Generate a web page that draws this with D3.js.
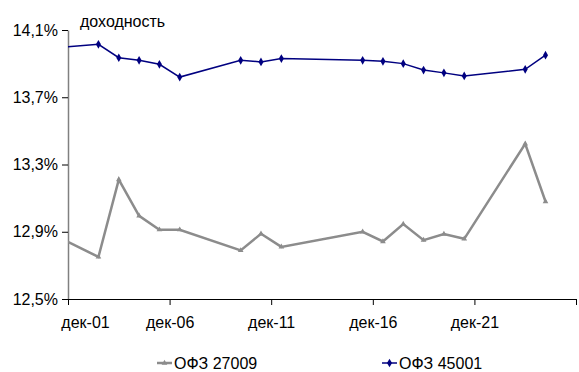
<!DOCTYPE html>
<html>
<head>
<meta charset="utf-8">
<script src="https://cdn.jsdelivr.net/npm/d3@7"></script>
<style>
  body { margin: 0; background: #fff; }
  text { font-family: "Liberation Sans", Arial, sans-serif; }
</style>
</head>
<body>
<svg id="chart"></svg>
<script>
// точки кривой: июнь каждого года
const dates = ['2001-06', '2003-06', '2004-06', '2005-06', '2006-06', '2007-06', '2010-06', '2011-06', '2012-06',
    '2016-06', '2017-06', '2018-06', '2019-06', '2020-06', '2021-06', '2024-06', '2025-06'];
const ofz27009 = [12.87, 12.75, 13.21, 12.995, 12.912, 12.912, 12.789, 12.888, 12.81,
    12.90, 12.842, 12.946, 12.85, 12.886, 12.858, 13.423, 13.08];
const ofz45001 = [13.995, 14.015, 13.935, 13.92, 13.896, 13.82, 13.92, 13.91, 13.93,
    13.92, 13.914, 13.90, 13.862, 13.845, 13.827, 13.866, 13.95];
const seriesNames = ['ОФЗ 27009', 'ОФЗ 45001'];
const yTicks = [12.5, 12.9, 13.3, 13.7, 14.1];
const xTickDates = ['2001-12', '2006-12', '2011-12', '2016-12', '2021-12', '2026-12'];
const xTickLabels = ['дек-01', 'дек-06', 'дек-11', 'дек-16', 'дек-21', ''];

const svgWidth = 579;
const svgHeight = 372;
const margin = { top: 30, right: 3, bottom: 73, left: 68 };
const width = svgWidth - margin.left - margin.right;
const height = svgHeight - margin.top - margin.bottom;

const parse = d3.timeParse('%Y-%m');

const xScale = d3.scaleTime()
    .domain([parse('2001-12'), parse('2026-12')])
    .range([0, width]);

const yScale = d3.scaleLinear()
    .domain([12.5, 14.1])
    .range([height, 0]);

const svg = d3.select('#chart')
    .attr('width', svgWidth)
    .attr('height', svgHeight);

const g = svg.append('g')
    .attr('transform', `translate(${margin.left}, ${margin.top})`);

g.append('clipPath')
    .attr('id', 'plot-clip')
    .append('rect')
    .attr('width', width)
    .attr('height', height);

// оси
const yAxis = g.append('g')
    .call(d3.axisLeft(yScale).tickValues(yTicks).tickSize(6).tickSizeOuter(0)
        .tickFormat(d => d3.format('.1f')(d).replace('.', ',') + '%'));
yAxis.select('.domain').attr('stroke', '#808080').attr('stroke-width', 1.5);
yAxis.selectAll('.tick line').attr('stroke', '#000');
yAxis.selectAll('.tick text')
    .attr('x', -10)
    .attr('font-size', '16px')
    .attr('fill', '#000');

const xAxis = g.append('g')
    .attr('transform', `translate(0, ${height})`)
    .call(d3.axisBottom(xScale).tickValues(xTickDates.map(parse)).tickSize(6).tickSizeOuter(0)
        .tickFormat((d, i) => xTickLabels[i]));
xAxis.select('.domain').attr('stroke', '#000').attr('stroke-width', 1);
xAxis.selectAll('.tick line').attr('stroke', '#000');
xAxis.selectAll('.tick text')
    .attr('y', 18)
    .attr('font-size', '16px')
    .attr('fill', '#000')
    .attr('dx', (d, i) => i === 0 ? 17 : 0);

g.append('text')
    .attr('x', 12)
    .attr('y', -3)
    .attr('font-size', '16px')
    .attr('fill', '#000')
    .text('доходность');

// линии
const line = d3.line()
    .x((d, i) => xScale(parse(dates[i])))
    .y(d => yScale(d));

const plot = g.append('g').attr('clip-path', 'url(#plot-clip)');

plot.append('path')
    .datum(ofz27009)
    .attr('fill', 'none')
    .attr('stroke', '#8c8c8c')
    .attr('stroke-width', 2.5)
    .attr('d', line);

plot.selectAll('.m1')
    .data(ofz27009)
    .enter()
    .append('path')
    .attr('class', 'm1')
    .attr('transform', (d, i) => `translate(${xScale(parse(dates[i]))}, ${yScale(d)})`)
    .attr('d', d3.symbol(d3.symbolTriangle, 14))
    .attr('fill', '#8c8c8c');

plot.append('path')
    .datum(ofz45001)
    .attr('fill', 'none')
    .attr('stroke', '#000080')
    .attr('stroke-width', 1.5)
    .attr('d', line);

plot.selectAll('.m2')
    .data(ofz45001)
    .enter()
    .append('path')
    .attr('class', 'm2')
    .attr('transform', (d, i) => `translate(${xScale(parse(dates[i]))}, ${yScale(d)})`)
    .attr('d', d3.symbol(d3.symbolDiamond, 22))
    .attr('fill', '#000080');

// легенда
const legend = svg.append('g').attr('transform', 'translate(0, 363)');
const legendX = [157, 382];
const legendColor = ['#8c8c8c', '#000080'];
seriesNames.forEach((name, i) => {
    const item = legend.append('g').attr('transform', `translate(${legendX[i]}, 0)`);
    item.append('line')
        .attr('x1', 0).attr('x2', 15)
        .attr('stroke', legendColor[i])
        .attr('stroke-width', i === 0 ? 2.5 : 1.5);
    item.append('path')
        .attr('transform', 'translate(7.5, 0)')
        .attr('d', d3.symbol(i === 0 ? d3.symbolTriangle : d3.symbolDiamond, i === 0 ? 14 : 22))
        .attr('fill', legendColor[i]);
    item.append('text')
        .attr('x', 17)
        .attr('y', 6)
        .attr('font-size', '16px')
        .attr('fill', '#000')
        .text(name);
});
</script>
</body>
</html>
